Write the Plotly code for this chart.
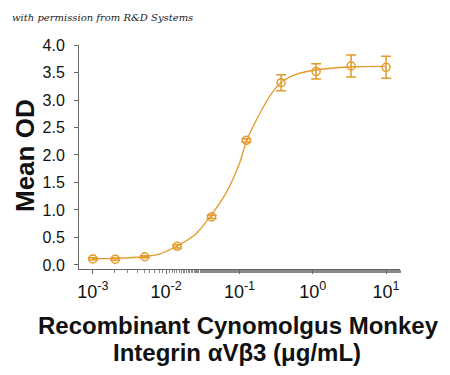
import plotly.graph_objects as go

# Measured points
conc = [0.001, 0.00202, 0.0051, 0.0141, 0.0416, 0.124, 0.37, 1.11, 3.33, 10.0]
mean_od = [0.11, 0.105, 0.15, 0.34, 0.873, 2.267, 3.315, 3.52, 3.618, 3.594]
err = [0.02, 0.02, 0.02, 0.03, 0.03, 0.03, 0.145, 0.14, 0.2, 0.2]

# Fitted curve
curve_x = [0.001, 0.002, 0.005, 0.00817, 0.0138, 0.0251, 0.0398, 0.0668, 0.1,
           0.126, 0.19, 0.275, 0.38, 0.603, 1.15, 3.16, 10.0]
curve_y = [0.115, 0.12, 0.15, 0.2, 0.34, 0.56, 0.88, 1.33, 1.85,
           2.27, 2.76, 3.12, 3.33, 3.47, 3.55, 3.6, 3.61]

tick_vals = [0.001, 0.01, 0.1, 1, 10]
tick_text = ["10<sup>-3</sup>", "10<sup>-2</sup>", "10<sup>-1</sup>", "10<sup>0</sup>", "10<sup>1</sup>"]
y_ticks = [0.0, 0.5, 1.0, 1.5, 2.0, 2.5, 3.0, 3.5, 4.0]

color = "#E49B2A"
font = "Liberation Sans, Arial, sans-serif"

OFF = 8  # page body margin offset
W, H = 450 - 2 * OFF, 375 - 2 * OFF
L, T = 79 - OFF, 45 - OFF
R = W - (400 - OFF)
B = H - (269 - OFF)
pw, ph = W - L - R, H - T - B

def px(x):
    return (x - OFF - L) / pw

def py(y):
    return (H - B - (y - OFF)) / ph

fig = go.Figure()
fig.add_trace(go.Scatter(x=curve_x, y=curve_y, mode="lines",
                         line=dict(color=color, width=1.3, shape="spline", smoothing=1.0),
                         hoverinfo="skip", showlegend=False))
fig.add_trace(go.Scatter(x=conc, y=mean_od, mode="markers",
                         marker=dict(symbol="circle-open", size=8, color=color, line=dict(width=1.5, color=color)),
                         error_y=dict(type="data", array=err, color=color, thickness=1.5, width=5),
                         showlegend=False))

fig.update_layout(
    width=W, height=H,
    margin=dict(l=L, r=R, t=T, b=B, autoexpand=False),
    paper_bgcolor="white", plot_bgcolor="white",
    font=dict(family=font, color="#111"),
    xaxis=dict(type="log", range=[-3.19, 1.19], tickvals=tick_vals, ticktext=tick_text,
               ticks="outside", ticklen=4, tickcolor="#666", showline=True, linecolor="#666",
               linewidth=1, showgrid=False, zeroline=False, tickfont=dict(size=18),
               ticklabelstandoff=2, automargin=False,
               minor=dict(ticks="outside", ticklen=3, tickcolor="#888", showgrid=False)),
    yaxis=dict(range=[-0.073, 4.0], tickvals=y_ticks, tickformat=".1f",
               ticks="outside", ticklen=4, tickcolor="#666", showline=True, linecolor="#666",
               linewidth=1, showgrid=False, zeroline=False, tickfont=dict(size=16),
               ticklabelstandoff=6, automargin=False),
    annotations=[
        dict(text="with permission from R&D Systems", xref="paper", yref="paper",
             x=px(10), y=py(17), xanchor="left", yanchor="middle", showarrow=False,
             font=dict(family="DejaVu Serif, serif", size=10, style="italic", color="#222")),
        dict(text="<b>Mean OD</b>", xref="paper", yref="paper", x=px(25), y=py(156),
             xanchor="center", yanchor="middle", textangle=-90, showarrow=False,
             font=dict(size=26, color="#111")),
        dict(text="<b>Recombinant Cynomolgus Monkey</b>", xref="paper", yref="paper",
             x=px(238), y=py(325), xanchor="center", yanchor="middle", showarrow=False,
             font=dict(size=24, color="#111")),
        dict(text="<b>Integrin αVβ3 (μg/mL)</b>", xref="paper", yref="paper",
             x=px(237), y=py(352), xanchor="center", yanchor="middle", showarrow=False,
             font=dict(size=24, color="#111")),
    ],
)

fig.write_html("out.html")
